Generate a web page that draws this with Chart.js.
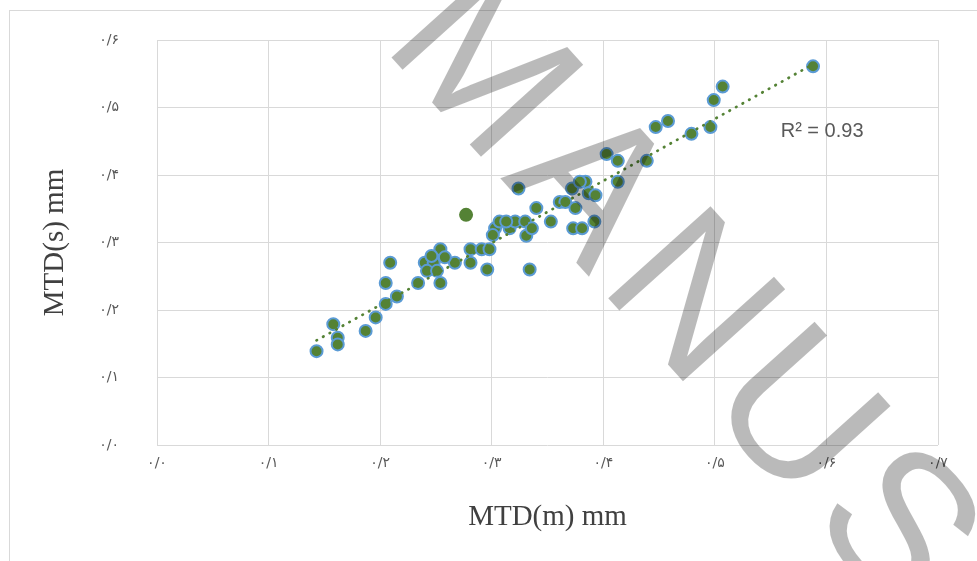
<!DOCTYPE html>
<html>
<head>
<meta charset="utf-8">
<script src="https://cdn.jsdelivr.net/npm/chart.js"></script>
<style>
  html, body { margin: 0; padding: 0; background: #fff; overflow: hidden; }
  #frame { position: absolute; left: 9px; top: 10px; width: 1100px; height: 700px; border: 1px solid #d9d9d9; }
  #chart { position: absolute; left: 0; top: 0; }
</style>
</head>
<body>
<div id="frame"></div>
<canvas id="chart" width="977" height="561"></canvas>
<script>
// MTD(m) vs MTD(s)
const mtdM = [0.143, 0.158, 0.162, 0.162, 0.187, 0.196, 0.205, 0.215, 0.205, 0.209,
    0.234, 0.254, 0.240, 0.248, 0.254, 0.267, 0.242, 0.251, 0.246, 0.258,
    0.281, 0.281, 0.291, 0.298, 0.296, 0.334, 0.303, 0.307, 0.316, 0.321,
    0.331, 0.330, 0.336, 0.353, 0.340, 0.301, 0.324, 0.361, 0.366, 0.375,
    0.373, 0.381, 0.392, 0.372, 0.384, 0.379, 0.387, 0.393, 0.413, 0.403,
    0.413, 0.439, 0.447, 0.458, 0.479, 0.496, 0.499, 0.507, 0.588, 0.313];
const mtdS = [0.139, 0.179, 0.159, 0.149, 0.169, 0.189, 0.209, 0.220, 0.240, 0.270,
    0.240, 0.240, 0.270, 0.270, 0.290, 0.270, 0.258, 0.258, 0.280, 0.278,
    0.290, 0.270, 0.290, 0.290, 0.260, 0.260, 0.321, 0.331, 0.321, 0.331,
    0.310, 0.331, 0.321, 0.331, 0.351, 0.311, 0.380, 0.360, 0.360, 0.351,
    0.321, 0.321, 0.331, 0.380, 0.390, 0.390, 0.373, 0.370, 0.390, 0.431,
    0.421, 0.421, 0.471, 0.480, 0.461, 0.471, 0.511, 0.531, 0.561, 0.331];

// the one point drawn without an outline
const extraM = [0.277];
const extraS = [0.341];

// linear trendline (dotted) and its label
const trendM = [0.143, 0.588];
const trendS = [0.155, 0.564];
const r2Text = 'R\u00b2 = 0.93';
const r2At = [0.559, 0.464];

const xTitle = 'MTD(m) mm';
const yTitle = 'MTD(s) mm';
const watermark = 'ACCEPTED MANUSCRIPT';

const faDigits = '۰۱۲۳۴۵۶۷۸۹';
function toFa(v) {
    return v.toFixed(1).replace(/\d/g, d => faDigits[+d]).replace('.', '/');
}

const green = '#548235';
const blue = '#5b9bd5';
const grid = '#d9d9d9';

const labelPlugin = {
    id: 'extras',
    afterDraw(chart) {
        const ctx = chart.ctx;
        const xs = chart.scales.x, ys = chart.scales.y;
        ctx.save();
        ctx.font = '20px "Liberation Sans"';
        ctx.fillStyle = '#595959';
        ctx.textBaseline = 'middle';
        ctx.fillText(r2Text, xs.getPixelForValue(r2At[0]), ys.getPixelForValue(r2At[1]));
        ctx.restore();

        // watermark over the chart, letter by letter with extra tracking
        ctx.save();
        ctx.font = '200px "Liberation Sans"';
        ctx.fillStyle = 'rgba(0,0,0,0.27)';
        const track = 12;
        let pre = 0;
        for (const ch of 'ACCEPTED M') pre += ctx.measureText(ch).width + track;
        ctx.translate(500, 178);
        ctx.rotate(48 * Math.PI / 180);
        let x = -pre;
        for (const ch of watermark) {
            ctx.fillText(ch, x, 0);
            x += ctx.measureText(ch).width + track;
        }
        ctx.restore();
    }
};

const tickFont = { family: '"DejaVu Sans"', size: 14 };
const titleFont = { family: '"Liberation Serif"', size: 29 };

new Chart(document.getElementById('chart'), {
    type: 'scatter',
    data: {
        datasets: [{
            type: 'line',
            data: trendM.map((x, i) => ({ x: x, y: trendS[i] })),
            borderColor: green,
            borderWidth: 2.75,
            borderDash: [0.5, 7],
            borderCapStyle: 'round',
            pointRadius: 0,
            fill: false
        }, {
            data: mtdM.map((x, i) => ({ x: x, y: mtdS[i] })),
            backgroundColor: green,
            borderColor: blue,
            borderWidth: 2,
            pointRadius: 6
        }, {
            data: extraM.map((x, i) => ({ x: x, y: extraS[i] })),
            backgroundColor: green,
            borderWidth: 0,
            pointRadius: 7
        }]
    },
    options: {
        responsive: false,
        animation: false,
        devicePixelRatio: 1,
        layout: { padding: { left: 30, top: 40, right: 39, bottom: 20 } },
        plugins: { legend: { display: false }, tooltip: { enabled: false } },
        scales: {
            x: {
                type: 'linear',
                min: 0, max: 0.7,
                ticks: { stepSize: 0.1, color: '#595959', font: tickFont, padding: 10, callback: v => toFa(v) },
                grid: { color: grid, drawTicks: false },
                border: { display: false },
                title: { display: true, text: xTitle, color: '#404040', font: titleFont, padding: { top: 0, bottom: 6 } },
                afterFit(s) { s.height = 96; }
            },
            y: {
                type: 'linear',
                min: 0, max: 0.6,
                ticks: { stepSize: 0.1, color: '#595959', font: tickFont, padding: 38, callback: v => toFa(v) },
                grid: { color: grid, drawTicks: false },
                border: { display: false },
                title: { display: true, text: yTitle, color: '#404040', font: titleFont, padding: { top: 8, bottom: 0 } },
                afterFit(s) {
                    s.width = 127;
                    // tick padding is horizontal here, keep it out of the top/bottom space
                    s.paddingTop = 0;
                    s.paddingBottom = 0;
                }
            }
        }
    },
    plugins: [labelPlugin]
});
</script>
</body>
</html>
